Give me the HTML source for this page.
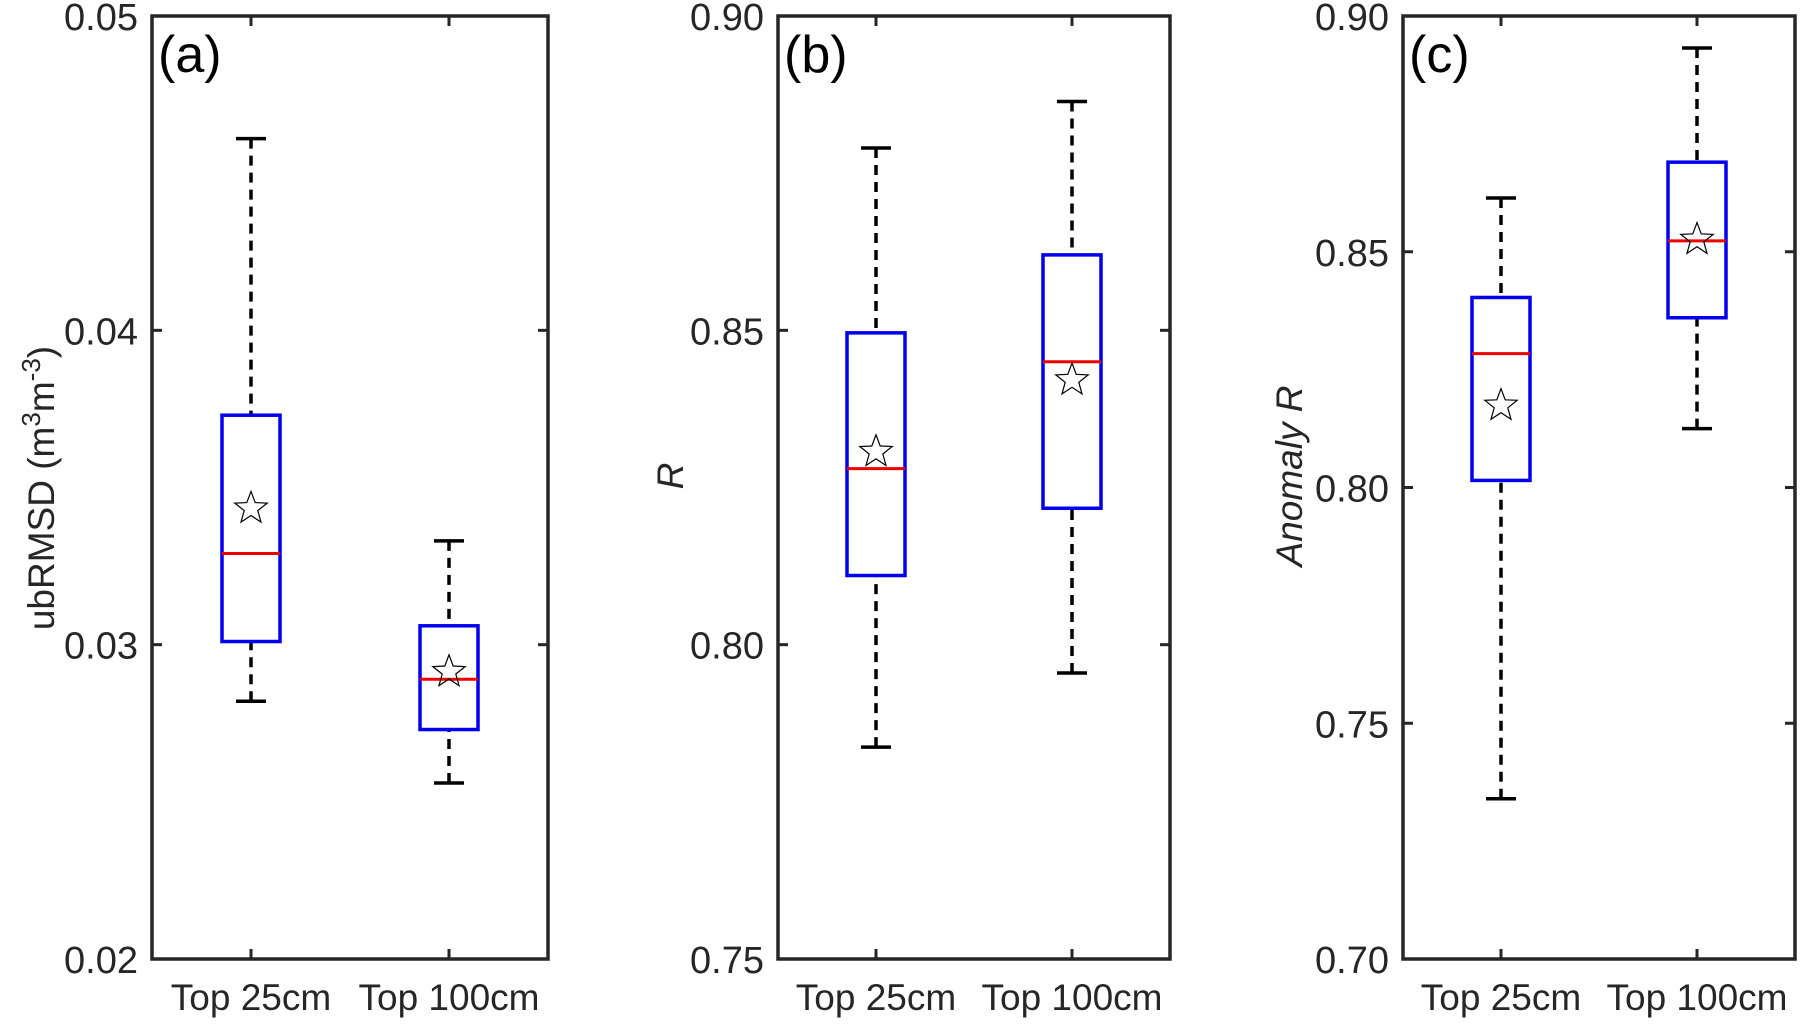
<!DOCTYPE html>
<html><head><meta charset="utf-8"><style>
html,body{margin:0;padding:0;background:#fff;}
svg{display:block;font-family:"Liberation Sans",sans-serif;}
</style></head><body>
<svg id="chart" width="1800" height="1024" viewBox="0 0 1800 1024" xmlns="http://www.w3.org/2000/svg"></svg>
<script>
const categories = ["Top 25cm", "Top 100cm"];
// [whiskerLow, q1, median, q3, whiskerHigh, mean]
const statsA = [[0.0282,0.0301,0.0329,0.0373,0.0461,0.0344],[0.0256,0.0273,0.0289,0.0306,0.0333,0.0292]];
const statsB = [[0.7837,0.811,0.828,0.8496,0.879,0.831],[0.7955,0.8217,0.845,0.862,0.8864,0.8424]];
const statsC = [[0.734,0.8015,0.8284,0.8403,0.8614,0.8178],[0.8125,0.836,0.8523,0.869,0.8932,0.853]];
const ticksA = ["0.02","0.03","0.04","0.05"];
const ticksB = ["0.75","0.80","0.85","0.90"];
const ticksC = ["0.70","0.75","0.80","0.85","0.90"];
const rangeA = [0.02,0.05], rangeB = [0.75,0.90], rangeC = [0.70,0.90];

const NS="http://www.w3.org/2000/svg";
const svg=document.getElementById('chart');
function mk(tag,attrs,parent,text){const e=document.createElementNS(NS,tag);for(const k in attrs)e.setAttribute(k,attrs[k]);if(text!==undefined)e.textContent=text;(parent||svg).appendChild(e);return e;}
function starPts(cx,cy,R){const r=R*0.42;let p=[];for(let i=0;i<10;i++){const a=-Math.PI/2+i*Math.PI/5;const rr=i%2?r:R;p.push((cx+rr*Math.cos(a)).toFixed(1)+','+(cy+rr*Math.sin(a)).toFixed(1));}return p.join(' ');}

function panel(id,L,R,stats,ticks,range,letter,ylabelFn){
  const T=16,B=959;
  const g=mk('g',{});
  
  
  const y=v=>B-(v-range[0])/(range[1]-range[0])*(B-T);
  const x=i=>L+(i+0.5)/2*(R-L);
  ticks.forEach(t=>{
    const v=parseFloat(t),yy=y(v);
    const l1=mk('line',{x1:L,x2:L+10,y1:yy,y2:yy,stroke:'#262626','stroke-width':3},g);
    
    
    mk('line',{x1:R,x2:R-10,y1:yy,y2:yy,stroke:'#262626','stroke-width':3},g);
    const tx=mk('text',{x:L-14,y:yy+14,'text-anchor':'end','font-size':38,fill:'#262626'},g,t);
    
    
  });
  categories.forEach((c,i)=>{
    const xx=x(i);
    mk('line',{x1:xx,x2:xx,y1:B,y2:B-10,stroke:'#262626','stroke-width':3},g);
    mk('line',{x1:xx,x2:xx,y1:T,y2:T+10,stroke:'#262626','stroke-width':3},g);
    const tx=mk('text',{x:xx,y:1010,'text-anchor':'middle','font-size':37,fill:'#262626'},g,c);
    
    
    const s=stats[i];const hw=29,cw=15;
    const bg=mk('g',{},g);
    
    
    mk('line',{x1:xx,x2:xx,y1:y(s[4]),y2:y(s[3]),stroke:'#000','stroke-width':3.5,'stroke-dasharray':'10,7'},bg);
    mk('line',{x1:xx,x2:xx,y1:y(s[0]),y2:y(s[1]),stroke:'#000','stroke-width':3.5,'stroke-dasharray':'10,7'},bg);
    mk('line',{x1:xx-cw,x2:xx+cw,y1:y(s[4]),y2:y(s[4]),stroke:'#000','stroke-width':3.5},bg);
    mk('line',{x1:xx-cw,x2:xx+cw,y1:y(s[0]),y2:y(s[0]),stroke:'#000','stroke-width':3.5},bg);
    mk('rect',{x:xx-hw,y:y(s[3]),width:2*hw,height:y(s[1])-y(s[3]),fill:'none',stroke:'#0000ee','stroke-width':3.5},bg);
    mk('line',{x1:xx-hw,x2:xx+hw,y1:y(s[2]),y2:y(s[2]),stroke:'#e00','stroke-width':3},bg);
    mk('polygon',{points:starPts(xx,y(s[5])+2,17),fill:'none',stroke:'#000','stroke-width':1.2},bg);
  });
  const fr=mk('rect',{x:L,y:T,width:R-L,height:B-T,fill:'none',stroke:'#262626','stroke-width':3.5},g);
  
  
  const pl=mk('text',{x:L+6,y:72,'font-size':52,fill:'#000'},g,letter);
  
  
  ylabelFn(g);
}
panel('a',152,548,statsA,ticksA,rangeA,'(a)',g=>{
  const t=mk('text',{transform:'translate(54,488) rotate(-90)','text-anchor':'middle','font-size':37,fill:'#262626'},g);
  
  
  mk('tspan',{},t,'ubRMSD (m');
  mk('tspan',{dy:-14,'font-size':26},t,'3');
  mk('tspan',{dy:14},t,'m');
  mk('tspan',{dy:-14,'font-size':26},t,'-3');
  mk('tspan',{dy:14},t,')');
});
panel('b',778,1170,statsB,ticksB,rangeB,'(b)',g=>{
  const t=mk('text',{transform:'translate(683,476) rotate(-90)','text-anchor':'middle','font-size':37,'font-style':'italic',fill:'#262626'},g,'R');
  
  
});
panel('c',1403,1795,statsC,ticksC,rangeC,'(c)',g=>{
  const t=mk('text',{transform:'translate(1302,476) rotate(-90)','text-anchor':'middle','font-size':37,'font-style':'italic',fill:'#262626'},g,'Anomaly R');
  
  
});
</script>
</body></html>
